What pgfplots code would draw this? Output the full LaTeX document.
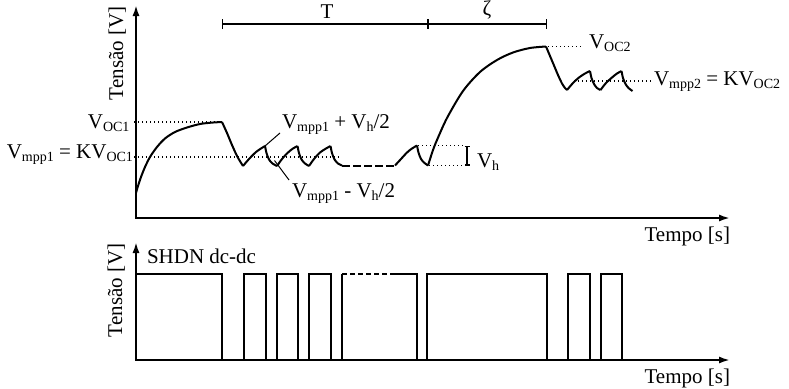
\documentclass[border=0pt]{standalone}
\usepackage{pgfplots}
\pgfplotsset{compat=1.18}
\usepackage{fontspec}
\setmainfont{Liberation Serif}
\usetikzlibrary{arrows.meta}
\newcommand{\sub}[1]{\raisebox{-3pt}{\fontsize{14}{14}\selectfont #1}}
\tikzset{
  lab/.style={inner sep=0pt, outer sep=0pt, font=\fontsize{21}{25}\selectfont},
  curve/.style={line width=2pt, black, smooth, mark=none, line join=round},
  sq/.style={line width=2pt, black, mark=none, line join=miter},
  dots/.style={line width=1.3pt, black, mark=none, dash pattern=on 1.3pt off 2.7pt},
  thin/.style={line width=1pt, black, mark=none},
}
\begin{document}
\begin{tikzpicture}
\begin{axis}[
  width=789pt, height=388pt, scale only axis,
  xmin=0, xmax=789, ymin=0, ymax=388, y dir=reverse,
  hide axis, clip=false,
]
\addplot[draw=none, mark=none] coordinates {(0,0) (789,388)};
% axes
\addplot[line width=2pt, mark=none, {Latex[length=11pt,width=7pt]}-{Latex[length=11pt,width=7pt]}] coordinates {(136,5) (136,218) (730,218)};
\addplot[line width=2pt, mark=none, {Latex[length=11pt,width=7pt]}-{Latex[length=11pt,width=7pt]}] coordinates {(136,242) (136,360) (730,360)};
% dotted reference lines
\addplot[dots] coordinates {(134,122) (222,122)};
\addplot[dots] coordinates {(134,157) (339,157)};
\addplot[dots] coordinates {(418,145.5) (463,145.5)};
\addplot[dots] coordinates {(429,165.5) (463,165.5)};
\addplot[dots] coordinates {(548,46.5) (582,46.5)};
\addplot[dots] coordinates {(574,81) (652,81)};
% top curve
\addplot[curve] coordinates {(136,193)(138,186)(141,177)(145,167)(150,157)(157,147)(165,138.5)(175,132)(187,127.5)(200,124)(212,122.6)(222,122)};
\addplot[curve] coordinates {(222,122)(227,133)(232,145)(237,156)(240.5,162)(243,166)};
\addplot[curve] coordinates {(243,166)(249,159)(256,152)(261,148.5)(265,146)};
\addplot[curve] coordinates {(265,146)(266.5,153)(269,159.5)(272.5,163.5)(277,166)};
\addplot[curve] coordinates {(277,166)(282,159)(288,152.5)(293,148.5)(297.5,146)};
\addplot[curve] coordinates {(297.5,146)(299,153)(301.5,159.5)(305,163.5)(309,166)};
\addplot[curve] coordinates {(309,166)(314,159)(320,152.5)(326,148.5)(330.5,146)};
\addplot[curve] coordinates {(330.5,146)(332,153)(334.5,159.5)(338,163.5)(342,165.5)};
\addplot[line width=2pt, mark=none, dash pattern=on 8pt off 3pt] coordinates {(342,165.5)(395,165.5)};
\addplot[curve] coordinates {(395,165.5)(401,159)(407,152.5)(412,148.5)(417,145.5)};
\addplot[curve] coordinates {(417,145.5)(418.5,152.5)(421,159)(424.5,163)(428,165.5)};
\addplot[curve] coordinates {(428,165.5)(433,150)(437,140)(447,118)(463,91)(480,72)(497,60)(513,52.5)(530,48)(546,46.5)};
\addplot[curve] coordinates {(546,46.5)(550,56)(554,65.5)(558,75)(562,83.5)(565,88)(567,90)};
\addplot[curve] coordinates {(567,90)(573,83)(579,77.5)(585,73.5)(590,71)};
\addplot[curve] coordinates {(590,71)(591.5,78)(594,84)(597,88)(600.5,90)};
\addplot[curve] coordinates {(600.5,90)(606,83)(612,77.5)(617,73.5)(621.5,71)};
\addplot[curve] coordinates {(621.5,71)(623,78)(625.5,84)(628.5,88)(632.5,91)};
% leader lines
\addplot[thin] coordinates {(265,146) (280,133)};
\addplot[thin] coordinates {(274.5,160.5) (289,180)};
% brackets
\addplot[line width=1.3pt, mark=none, {Bar[width=10pt]}-{Bar[width=10pt]}] coordinates {(222,24) (428,24)};
\addplot[line width=1.3pt, mark=none, {Bar[width=10pt]}-{Bar[width=10pt]}] coordinates {(428,24) (547,24)};
\addplot[line width=1.3pt, mark=none, {Bar[width=5pt]}-{Bar[width=5pt]}] coordinates {(467,145.5) (467,165.5)};
% square wave
\addplot[sq] coordinates {(136,274)(222,274)(222,360)(244,360)(244,274)(266,274)(266,360)(277,360)(277,274)(298,274)(298,360)(309,360)(309,274)(331,274)(331,360)(342,360)(342,274)};
\addplot[line width=2pt, mark=none, dash pattern=on 5pt off 3pt] coordinates {(342,274)(395,274)};
\addplot[sq] coordinates {(395,274)(416.5,274)(416.5,360)(427,360)(427,274)(547,274)(547,360)(568,360)(568,274)(590,274)(590,360)(601,360)(601,274)(622,274)(622,360)};
% labels
\node[lab, anchor=base east] at (axis cs:129.5,128) {V\sub{OC1}};
\node[lab, anchor=base east] at (axis cs:133,158) {V\sub{mpp1} = KV\sub{OC1}};
\node[lab, anchor=base west] at (axis cs:282,128) {V\sub{mpp1} + V\sub{h}/2};
\node[lab, anchor=base west] at (axis cs:292,197) {V\sub{mpp1} - V\sub{h}/2};
\node[lab, anchor=base west] at (axis cs:477,167) {V\sub{h}};
\node[lab, anchor=base west] at (axis cs:589,48) {V\sub{OC2}};
\node[lab, anchor=base west] at (axis cs:654,85) {V\sub{mpp2} = KV\sub{OC2}};
\node[lab, anchor=base] at (axis cs:327,18) {T};
\node[lab, anchor=base] at (axis cs:487,15) {ζ};
\node[lab, anchor=base west, rotate=90] at (axis cs:123,100) {Tensão [V]};
\node[lab, anchor=base west, rotate=90] at (axis cs:122,337) {Tensão [V]};
\node[lab, anchor=base west] at (axis cs:147,263) {SHDN dc-dc};
\node[lab, anchor=base east] at (axis cs:730,241) {Tempo [s]};
\node[lab, anchor=base east] at (axis cs:730,383) {Tempo [s]};
\end{axis}
\end{tikzpicture}
\end{document}
